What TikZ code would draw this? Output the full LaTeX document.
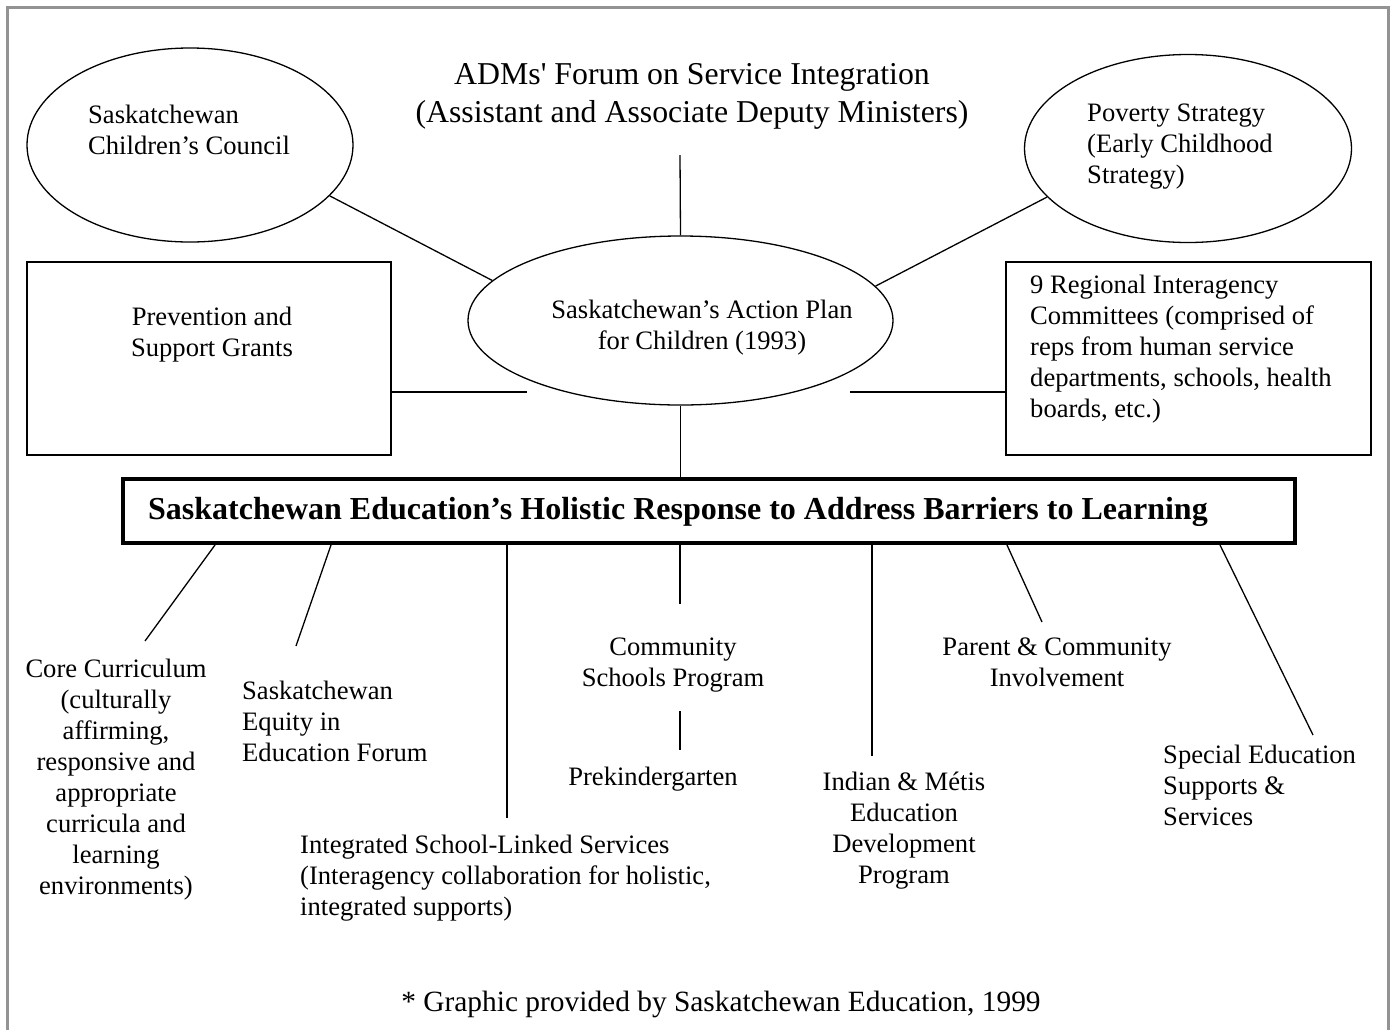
\documentclass[tikz,border=0pt]{standalone}
\usepackage{fontspec}
\setmainfont{Liberation Serif}
\usetikzlibrary{shapes.geometric}
\begin{document}
\begin{tikzpicture}[x=1pt,y=-1pt,
  body/.style={font=\fontsize{26.6}{31}\selectfont, inner sep=0pt},
  oval/.style={draw, ellipse, line width=1.3pt, inner sep=0pt},
  panel/.style={draw, rectangle, line width=1.3pt, inner sep=0pt},
  link/.style={line width=1.3pt},
  frame/.style={draw=gray!85, line width=3pt}]
\useasboundingbox (0,0) rectangle (1395,1029);
\clip (0,0) rectangle (1395,1029);
% page frame
\draw[frame] (7,1040) -- (7,7) -- (1388,7) -- (1388,1040);

% top level
\node[body, font=\fontsize{31.8}{38}\selectfont, align=center] (adm) at (692,96)
  {ADMs\textquotesingle\ Forum on Service Integration\\(Assistant and Associate Deputy Ministers)};
\node[oval, minimum width=326pt, minimum height=194pt] (cc) at (190,145) {};
\node[body, align=left, anchor=west] (cct) at (88,129.5) {Saskatchewan\\Children’s Council};
\node[oval, minimum width=327pt, minimum height=188pt] (pov) at (1188,148.5) {};
\node[body, align=left, anchor=west] (povt) at (1087,147) {Poverty Strategy\\(Early Childhood\\Strategy)};
\node[oval, minimum width=425pt, minimum height=169pt] (ap) at (680.5,320.5) {};
\node[body, align=center] (apt) at (702,327.5) {Saskatchewan’s Action Plan\\for Children (1993)};
\node[panel, minimum width=364pt, minimum height=193pt] (prev) at (209,358.5) {};
\node[body, align=center] (prevt) at (212,334.5) {Prevention and\\Support Grants};
\node[panel, minimum width=365pt, minimum height=193pt] (reg) at (1188.5,358.5) {};
\node[body, align=left, anchor=west] (regt) at (1030,349)
  {9 Regional Interagency\\Committees (comprised of\\reps from human service\\departments, schools, health\\boards, etc.)};

% central heading
\node[draw, line width=4pt, minimum width=1172pt, minimum height=64pt] (hb) at (709,511) {};
\node[inner sep=0pt, anchor=west, font=\fontsize{32}{36}\selectfont\bfseries] (hbt) at (148,512)
  {Saskatchewan Education’s Holistic Response to Address Barriers to Learning};

% lower labels
\node[body, align=center] (core) at (116,779.5)
  {Core Curriculum\\(culturally\\affirming,\\responsive and\\appropriate\\curricula and\\learning\\environments)};
\node[body, align=left, anchor=west] (eq) at (242,721) {Saskatchewan\\Equity in\\Education Forum};
\node[body, align=left, anchor=west] (isl) at (300,878)
  {Integrated School-Linked Services\\(Interagency collaboration for holistic,\\integrated supports)};
\node[body, align=center] (csp) at (673,665.5) {Community\\Schools Program};
\node[body, align=center] (prek) at (653,779) {Prekindergarten};
\node[body, align=center] (imed) at (904,830.5) {Indian \& Métis\\Education\\Development\\Program};
\node[body, align=center] (pci) at (1057,662.5) {Parent \& Community\\Involvement};
\node[body, align=left, anchor=west] (sped) at (1163,785) {Special Education\\Supports \&\\Services};
\node[body, font=\fontsize{29.4}{34}\selectfont, align=center] (note) at (721,1004)
  {* Graphic provided by Saskatchewan Education, 1999};

% connectors around the action plan
\draw[link] (cc.-20) -- (ap.168);
\draw[link] (pov.-161) -- (ap.10);
\coordinate (admb) at (680,155);
\draw[link] (admb) -- (ap.north);
\coordinate (pl) at (527,392);
\coordinate (pr) at (850,392);
\draw[link] (prev.east |- pl) -- (pl);
\draw[link] (pr) -- (reg.west |- pr);
\draw[link] (ap.south) -- (hb.north -| ap.south);

% connectors below the heading
\foreach \n/\xt/\xe/\ye in {1/215/145/641, 2/331/296/646, 3/507/507/818, 4/680/680/604,
                             5/872/872/756, 6/1007/1042/622, 7/1220/1313/735}{
  \coordinate (top\n) at (\xt,0);
  \coordinate (end\n) at (\xe,\ye);
  \draw[link] (top\n |- hb.south) -- (end\n);
}
\coordinate (pka) at (680,711);
\coordinate (pkb) at (680,750);
\draw[link] (pka) -- (pkb);
\end{tikzpicture}
\end{document}
